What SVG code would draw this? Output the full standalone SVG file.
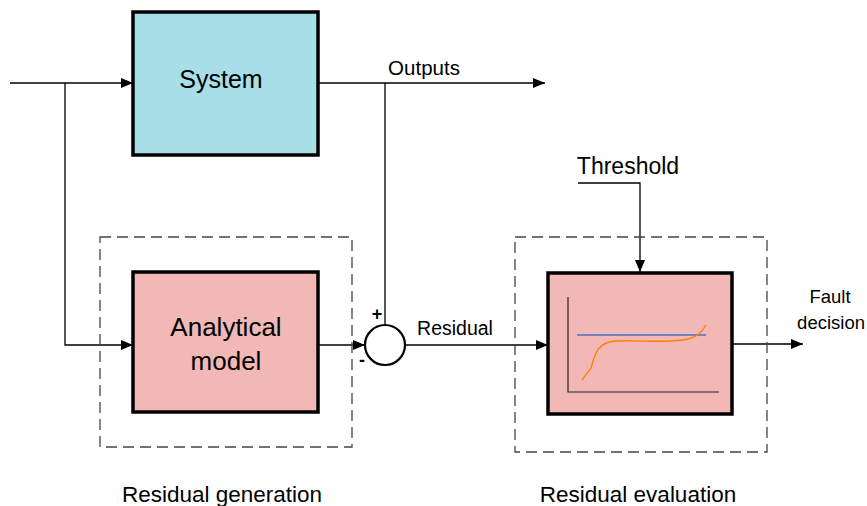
<svg xmlns="http://www.w3.org/2000/svg" width="867" height="506" viewBox="0 0 867 506">
<style>
.blk{stroke:#000;stroke-width:3.5}
.ln{stroke:#000;stroke-width:1.3;fill:none}
.dash{stroke:#444;stroke-width:1.3;fill:none;stroke-dasharray:11,6}
text{font-family:"Liberation Sans",Arial,sans-serif;fill:#000}
.big{font-size:26px}
.lab{font-size:22.5px}
</style>
<defs>
<marker id="ah" markerWidth="12" markerHeight="10" refX="12" refY="5" orient="auto" markerUnits="userSpaceOnUse">
<path d="M0,0 L12,5 L0,10 z" fill="#000"/>
</marker>
</defs>
<g id="connectors">
<line class="ln" x1="10" y1="83" x2="133" y2="83" marker-end="url(#ah)"/>
<polyline class="ln" points="65,83 65,345 133,345" marker-end="url(#ah)"/>
<line class="ln" x1="318" y1="83" x2="545" y2="83" marker-end="url(#ah)"/>
<line class="ln" x1="385" y1="83" x2="385" y2="325"/>
<line class="ln" x1="318" y1="345" x2="365" y2="345" marker-end="url(#ah)"/>
<line class="ln" x1="405" y1="345" x2="548" y2="345" marker-end="url(#ah)"/>
<polyline class="ln" points="578,183 640,183 640,272" marker-end="url(#ah)"/>
<line class="ln" x1="732" y1="344" x2="803" y2="344" marker-end="url(#ah)"/>
</g>
<g id="gen-frame">
<rect class="dash" x="100" y="237" width="252" height="210"/>
<text class="lab" x="222" y="502" text-anchor="middle">Residual generation</text>
</g>
<g id="eval-frame">
<rect class="dash" x="515" y="237" width="252" height="215"/>
<text class="lab" x="638" y="502" text-anchor="middle">Residual evaluation</text>
</g>
<g id="system">
<rect class="blk" x="133" y="12" width="185" height="143" fill="#A7DEE8"/>
<text x="221" y="88" text-anchor="middle" font-size="25">System</text>
</g>
<g id="model">
<rect class="blk" x="133" y="272" width="185" height="140" fill="#F2B8B5"/>
<text class="big" x="226" y="336" text-anchor="middle">Analytical</text>
<text class="big" x="226" y="370" text-anchor="middle">model</text>
</g>
<g id="sum">
<circle cx="385" cy="345" r="20" fill="#fff" stroke="#000" stroke-width="2.2"/>
<text x="377" y="320" text-anchor="middle" font-size="18" font-weight="bold">+</text>
<text x="362" y="366" text-anchor="middle" font-size="18" font-weight="bold">-</text>
</g>
<g id="evaluator">
<rect class="blk" x="548" y="273" width="184" height="141" fill="#F2B8B5"/>
<polyline points="568,297 568,392 719,392" fill="none" stroke="#222" stroke-width="1.2"/>
<line x1="577" y1="335" x2="706" y2="335" stroke="#4472C4" stroke-width="1.4"/>
<path d="M582,380 L591,368 C595,355 596,343 615,341 C640,340 660,343 683,340 C697,338 702,332 706,325" fill="none" stroke="#FF7F0E" stroke-width="1.4"/>
</g>
<g id="labels">
<text x="424" y="75" text-anchor="middle" font-size="20.5">Outputs</text>
<text x="455" y="335" text-anchor="middle" font-size="19.5">Residual</text>
<text x="628" y="174" text-anchor="middle" font-size="23">Threshold</text>
<text x="830" y="303" text-anchor="middle" font-size="18.5">Fault</text>
<text x="865" y="329" text-anchor="end" font-size="18.5">decision</text>
</g>
</svg>
